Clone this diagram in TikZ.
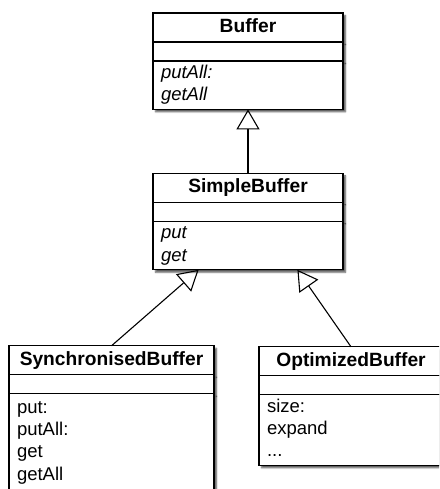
\documentclass[tikz,border=0pt]{standalone}
\usepackage{fontspec}
\setmainfont{Liberation Sans}
\usepackage{tikz}
\usetikzlibrary{positioning, arrows.meta, calc, shadows.blur}
\newcommand{\umlfont}{\fontsize{18.5}{22.2}\selectfont}
\newcommand{\umltitle}{\fontsize{19.2}{22.2}\selectfont\bfseries}

\begin{document}
\begin{tikzpicture}[x=1pt, y=1pt]
	% Define styles
	\tikzset{
		box/.style={draw, fill=white, line width=1.1pt, outer sep=0pt,
			blur shadow={shadow xshift=2.5pt, shadow yshift=-2.5pt, shadow blur radius=1.5pt, shadow opacity=65}},
		classname/.style={box, minimum width=#1, minimum height=29pt, inner sep=0pt, text height=13.5pt, text depth=4pt, font=\umltitle},
		classattr/.style={box, minimum width=#1, minimum height=19pt, inner sep=0pt},
		classops/.style={box, text width=#1, align=left, inner xsep=8pt, inner ysep=2pt, font=\umlfont,
			execute at begin node=\strut, execute at end node=\strut},
		abstract/.style={font=\umlfont\itshape},
		line/.style={draw, line width=1.1pt, -{Triangle[open, length=20pt, width=23pt]}}
	}
	\useasboundingbox (0,0) rectangle (439,-489);
	\clip (0,0) rectangle (439,-489);
	% Nodes
	\node[classname=190pt] (buffer) at (248,-27.5) {Buffer};
	\node[classattr=190pt, below=0pt of buffer] (bufferattr) {};
	\node[classops=174pt, abstract, below=0pt of bufferattr] (bufferops) {putAll:\\getAll};
	
	\node[classname=190pt, below=64pt of bufferops] (simple) {SimpleBuffer};
	\node[classattr=190pt, below=0pt of simple] (simpleattr) {};
	\node[classops=174pt, abstract, below=0pt of simpleattr] (simpleops) {put\\get};
	
	\node[classname=205pt, below=76pt of simpleops, xshift=-136.5pt] (sync) {SynchronisedBuffer};
	\node[classattr=205pt, below=0pt of sync] (syncattr) {};
	\node[classops=189pt, minimum height=97pt, below=0pt of syncattr] (syncops) {put:\\putAll:\\get\\getAll};
	
	\node[classname=184pt, below=77pt of simpleops, xshift=103pt] (optimized) {OptimizedBuffer};
	\node[classattr=184pt, below=0pt of optimized] (optimizedattr) {};
	\node[classops=168pt, below=0pt of optimizedattr] (optimizedops) {size:\\expand\\...};
	
	\coordinate (simpleleft) at ($(simpleops.south west)!0.24!(simpleops.south east)$);
	\coordinate (simpleright) at ($(simpleops.south west)!0.76!(simpleops.south east)$);
	
	% Arrows
	\draw[line] (simple) -- (bufferops);
	\draw[line] (sync.north) -- (simpleleft);
	\draw[line] (optimized.north) -- (simpleright);
\end{tikzpicture}
\end{document}
